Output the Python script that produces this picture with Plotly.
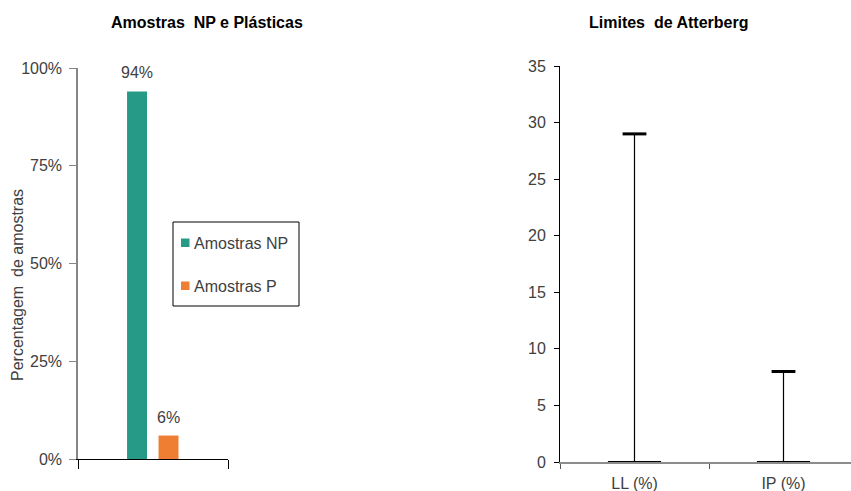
import plotly.graph_objects as go

# Sample classification (share of samples)
class_names = ["Amostras NP", "Amostras P"]
class_shares = [0.94, 0.06]
class_colors = ["#279A87", "#EF7E33"]

# Atterberg limits: range of values per index
limit_names = ["LL (%)", "IP (%)"]
limit_max = [29, 8]
limit_min = [0, 0]

W, H = 851, 491
FONT = "Liberation Sans, Arial, sans-serif"
TICK_COLOR = "#404040"
FS = 16


def px_x(p):
    return p / W


def px_y(p):
    return 1 - p / H


fig = go.Figure()

# Left panel: two bars sharing one category slot
bar_offsets = [-0.173, 0.037]
bar_width = 0.133
for name, share, color, off in zip(class_names, class_shares, class_colors, bar_offsets):
    fig.add_trace(go.Bar(
        x=[""], y=[share], name=name, showlegend=False,
        marker=dict(color=color, line=dict(width=0)),
        width=bar_width, offset=off,
        xaxis="x", yaxis="y",
    ))

# Right panel: min-max range line with caps
fig.add_trace(go.Scatter(
    x=limit_names, y=limit_min, mode="markers", showlegend=False,
    marker=dict(symbol="line-ew", size=38, line=dict(width=2, color="black")),
    error_y=dict(type="data", symmetric=False,
                 array=[hi - lo for hi, lo in zip(limit_max, limit_min)],
                 arrayminus=[0, 0], width=0, thickness=1.2, color="black"),
    cliponaxis=False, xaxis="x2", yaxis="y2",
))
fig.add_trace(go.Scatter(
    x=limit_names, y=limit_max, mode="markers", showlegend=False,
    marker=dict(symbol="line-ew", size=17, line=dict(width=3, color="black")),
    cliponaxis=False, xaxis="x2", yaxis="y2",
))

axis_font = dict(size=FS, color=TICK_COLOR, family=FONT)

annotations = [
    dict(text="<b>Amostras  NP e Plásticas</b>", x=px_x(207), y=px_y(22),
         xref="paper", yref="paper", xanchor="center", yanchor="middle",
         showarrow=False, font=dict(size=FS, color="black", family=FONT)),
    dict(text="<b>Limites  de Atterberg</b>", x=px_x(668), y=px_y(22),
         xref="paper", yref="paper", xanchor="center", yanchor="middle",
         showarrow=False, font=dict(size=FS, color="black", family=FONT)),
    dict(text="Percentagem  de amostras", x=px_x(17), y=px_y(285),
         xref="paper", yref="paper", xanchor="center", yanchor="middle",
         showarrow=False, textangle=-90, font=axis_font),
]

# Value labels above the bars
for share, off in zip(class_shares, bar_offsets):
    annotations.append(dict(
        text=f"{share:.0%}", x=off + bar_width / 2, y=share,
        xref="x", yref="y", xanchor="center", yanchor="bottom",
        yshift=8, showarrow=False, font=axis_font,
    ))

# Legend box with colour swatches
shapes = [dict(type="rect", xref="paper", yref="paper",
               x0=px_x(173), x1=px_x(299), y0=px_y(306), y1=px_y(222),
               line=dict(color="black", width=1), fillcolor="white", layer="above")]
legend_rows = [243, 286]
for name, color, row in zip(class_names, class_colors, legend_rows):
    shapes.append(dict(type="rect", xref="paper", yref="paper",
                       x0=px_x(181), x1=px_x(189.5),
                       y0=px_y(row + 4), y1=px_y(row - 4.5),
                       line=dict(width=0), fillcolor=color, layer="above"))
    annotations.append(dict(text=name, x=px_x(192), y=px_y(row),
                            xref="paper", yref="paper", xanchor="left",
                            yanchor="middle", showarrow=False, font=axis_font))

fig.update_layout(
    width=W, height=H,
    margin=dict(l=0, r=0, t=0, b=0, autoexpand=False),
    paper_bgcolor="white", plot_bgcolor="white",
    font=dict(family=FONT, size=FS, color=TICK_COLOR),
    barmode="overlay",
    showlegend=False,
    xaxis=dict(
        domain=[px_x(78), px_x(228)], range=[-0.5, 0.5], type="category",
        showline=True, linecolor="black", linewidth=1,
        ticks="outside", tickson="boundaries", ticklen=9, tickcolor="black",
        showticklabels=False, showgrid=False, zeroline=False, automargin=False,
    ),
    yaxis=dict(
        domain=[px_y(459), px_y(68)], range=[0, 1],
        tickvals=[0, 0.25, 0.5, 0.75, 1], tickformat=".0%",
        showline=True, linecolor="#868686", linewidth=1.5,
        ticks="outside", ticklen=7, tickcolor="#868686",
        ticklabelstandoff=4, automargin=False,
        tickfont=axis_font, showgrid=False, zeroline=False,
    ),
    xaxis2=dict(
        domain=[px_x(560), 1.0], range=[-0.5, 1.453], type="category",
        showline=True, linecolor="#8C8C8C", linewidth=1.5,
        ticks="outside", tickson="boundaries", ticklen=5, tickcolor="#555555",
        ticklabelstandoff=6, automargin=False,
        tickfont=axis_font, showgrid=False, zeroline=False, anchor="y2",
    ),
    yaxis2=dict(
        domain=[px_y(462), px_y(66)], range=[0, 35], dtick=5,
        showline=True, linecolor="black", linewidth=1,
        ticks="outside", ticklen=5, tickcolor="black",
        ticklabelstandoff=5, automargin=False,
        tickfont=axis_font, showgrid=False, zeroline=False, anchor="x2",
    ),
    annotations=annotations,
    shapes=shapes,
)

fig.write_html("out.html")
